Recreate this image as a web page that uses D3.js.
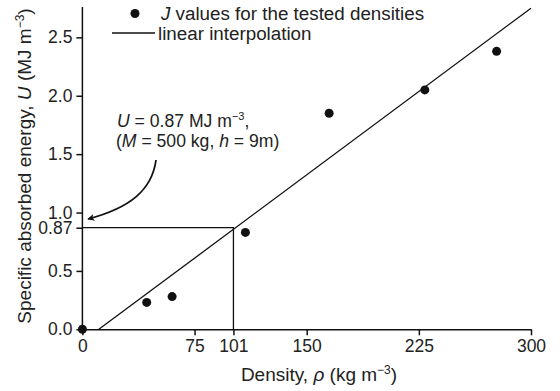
<!DOCTYPE html>
<html>
<head>
<meta charset="utf-8">
<script src="https://cdn.jsdelivr.net/npm/d3@7"></script>
<style>
  html, body { margin: 0; padding: 0; background: #fff; }
  svg { display: block; font-family: "Liberation Sans", Arial, sans-serif; }
</style>
</head>
<body>
<svg id="chart" width="560" height="391"></svg>
<script>
// Measured densities (kg m^-3) and specific absorbed energy J (MJ m^-3)
const densities = [0, 43, 60, 109, 165, 229, 277];
const jValues   = [0, 0.23, 0.28, 0.83, 1.85, 2.05, 2.38];

// Linear interpolation through the tested points
const fitDensity = [11, 300];
const fitEnergy  = [0, 2.75];

// Design point
const designDensity = 101;
const designEnergy  = 0.87;

const xTicks = [0, 75, 101, 150, 225, 300];
const yTicks = [0.0, 0.5, 0.87, 1.0, 1.5, 2.0, 2.5];

const svg = d3.select("#chart");

const x = d3.scaleLinear().domain([0, 300]).range([82.4, 531]);
const y = d3.scaleLinear().domain([0, 2.76]).range([329.3, 7]);

const tickFont = 17.5;
const legendFont = 18.8;
const noteFont = 17.6;
const titleFont = 19;

// Axes
const xAxis = d3.axisBottom(x).tickValues(xTicks).tickSize(6).tickSizeOuter(0)
  .tickPadding(4).tickFormat(d3.format("d"));
const yAxis = d3.axisLeft(y).tickValues(yTicks).tickSize(6).tickSizeOuter(0)
  .tickPadding(4).tickFormat(d => d === 0.87 ? "0.87" : d3.format(".1f")(d));

const gx = svg.append("g").attr("transform", `translate(0,${y(0)})`).call(xAxis);
const gy = svg.append("g").attr("transform", `translate(${x(0)},0)`).call(yAxis);

[gx, gy].forEach(g => {
  g.select(".domain").attr("stroke", "#111").attr("stroke-width", 1.5);
  g.selectAll(".tick line").attr("stroke", "#111").attr("stroke-width", 1.5);
  g.selectAll(".tick text").attr("fill", "#222")
    .style("font-size", tickFont + "px")
    .style("font-family", "'Liberation Sans', Arial, sans-serif");
});
gy.select(".domain").attr("d", `M0,${y(0)}V${y.range()[1]}`);

// Guide lines to the design point
svg.append("path")
  .attr("d", `M${x(0)},${y(designEnergy)}H${x(designDensity)}V${y(0)}`)
  .attr("fill", "none").attr("stroke", "#111").attr("stroke-width", 1.3);

// Interpolation line
const line = d3.line().x(d => x(d[0])).y(d => y(d[1]));
svg.append("path")
  .datum(fitDensity.map((d, i) => [d, fitEnergy[i]]))
  .attr("d", line)
  .attr("fill", "none").attr("stroke", "#111").attr("stroke-width", 1.3);

// Tested densities
svg.append("g").selectAll("circle")
  .data(densities.map((d, i) => [d, jValues[i]]))
  .join("circle")
  .attr("cx", d => x(d[0])).attr("cy", d => y(d[1]))
  .attr("r", 4.5).attr("fill", "#111");

// Legend
const legend = svg.append("g").style("font-size", legendFont + "px").attr("fill", "#222");
legend.append("circle").attr("cx", 135).attr("cy", 13.5).attr("r", 4.5).attr("fill", "#111");
const lt1 = legend.append("text").attr("x", 161).attr("y", 20);
lt1.append("tspan").attr("font-style", "italic").text("J");
lt1.append("tspan").text(" values for the tested densities");
legend.append("line").attr("x1", 112).attr("x2", 155).attr("y1", 33).attr("y2", 33)
  .attr("stroke", "#111").attr("stroke-width", 1.3);
legend.append("text").attr("x", 158).attr("y", 40).text("linear interpolation");

// Annotation
const ann = svg.append("g").style("font-size", noteFont + "px").attr("fill", "#222");
const a1 = ann.append("text").attr("x", 117).attr("y", 127);
a1.append("tspan").attr("font-style", "italic").text("U");
a1.append("tspan").text(" = 0.87 MJ m");
a1.append("tspan").attr("dy", -7).style("font-size", "11px").text("\u22123");
a1.append("tspan").attr("dy", 7).text(",");
const a2 = ann.append("text").attr("x", 116).attr("y", 147);
a2.append("tspan").text("(");
a2.append("tspan").attr("font-style", "italic").text("M");
a2.append("tspan").text(" = 500 kg, ");
a2.append("tspan").attr("font-style", "italic").text("h");
a2.append("tspan").text(" = 9m)");

svg.append("defs").append("marker")
  .attr("id", "head").attr("viewBox", "0 0 10 10")
  .attr("refX", 9).attr("refY", 5)
  .attr("markerWidth", 9).attr("markerHeight", 7)
  .attr("markerUnits", "userSpaceOnUse")
  .attr("orient", "auto")
  .append("path").attr("d", "M0,0L10,5L0,10L2.5,5Z").attr("fill", "#111");

svg.append("path")
  .attr("d", "M156,160 C152,190 130,208 88,219")
  .attr("fill", "none").attr("stroke", "#111").attr("stroke-width", 1.8)
  .attr("marker-end", "url(#head)");

// Axis titles
const xt = svg.append("text").attr("x", 319).attr("y", 381)
  .attr("text-anchor", "middle").style("font-size", titleFont + "px").attr("fill", "#222");
xt.append("tspan").text("Density, ");
xt.append("tspan").attr("font-style", "italic").text("\u03C1");
xt.append("tspan").text("  (kg m");
xt.append("tspan").attr("dy", -7).style("font-size", "12px").text("\u22123");
xt.append("tspan").attr("dy", 7).text(")");

const yt = svg.append("text")
  .attr("transform", "translate(31,166) rotate(-90)")
  .attr("text-anchor", "middle").style("font-size", titleFont + "px").attr("fill", "#222");
yt.append("tspan").text("Specific absorbed energy, ");
yt.append("tspan").attr("font-style", "italic").text("U");
yt.append("tspan").text(" (MJ m");
yt.append("tspan").attr("dy", -7).style("font-size", "12px").text("\u22123");
yt.append("tspan").attr("dy", 7).text(")");
</script>
</body>
</html>
